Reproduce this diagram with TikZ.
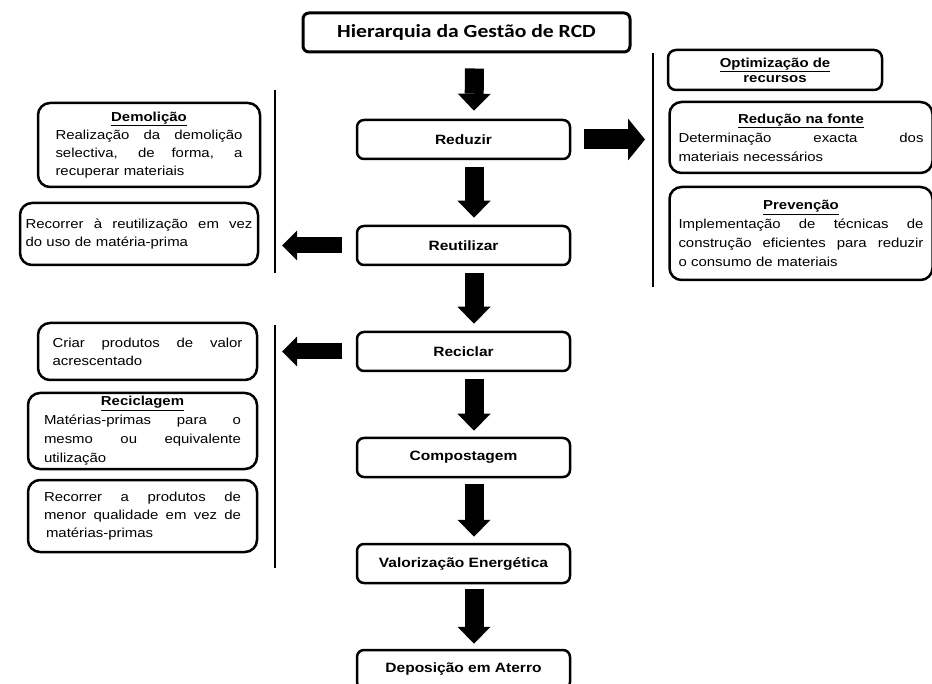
\documentclass[tikz,border=0pt]{standalone}
\usepackage{fontspec}
\setmainfont{Liberation Sans}[FakeStretch=1.15]
\newfontfamily\titlefont{Carlito}[FakeStretch=1.17]
\usetikzlibrary{arrows.meta}
\setlength\parindent{0pt}
% a justified (spread) line of given width, and a centred underlined heading line
\newcommand\jl[2]{\leavevmode\hbox to #1pt{\spaceskip=0.3em plus 10em\relax #2}}
\newcommand\hl[2]{\leavevmode\hbox to #1pt{\hfil\bfseries\underline{#2}\hfil}}
\begin{document}
\begin{tikzpicture}[x=1pt,y=-1pt,
  mainbox/.style={draw, line width=2.5pt, rounded corners=7pt, inner sep=0pt,
    minimum height=39pt, minimum width=213pt,
    font=\fontsize{13.5}{16}\selectfont\bfseries},
  titlebox/.style={draw, line width=3pt, rounded corners=6pt, inner sep=0pt,
    minimum height=39pt, minimum width=327pt,
    font=\titlefont\fontsize{18.5}{20}\selectfont\bfseries},
  sidebox/.style={draw, line width=2.5pt, rounded corners=12pt, inner sep=0pt,
    align=left, font=\fontsize{13}{18}\selectfont},
  rightbox/.style={draw, line width=2.5pt, rounded corners=12pt, inner sep=0pt,
    align=left, font=\fontsize{13}{19}\selectfont},
  downarrow/.style={line width=19pt, -{Triangle[length=17pt,width=33pt,line width=0pt]}},
  rightarrow/.style={line width=20pt, -{Triangle[length=17pt,width=42pt,line width=0pt]}},
  leftarrow/.style={line width=16pt, -{Triangle[length=15pt,width=30pt,line width=0pt]}},
  sepline/.style={line width=1.1pt}
]
\useasboundingbox (0,0) rectangle (932,684);

% central column
\node[titlebox] (title) at (466.5,32.5) {Hierarquia da Gestão de RCD};
\node[mainbox] (reduzir) at (463.5,139.5) {Reduzir};
\node[mainbox] (reut) at (463.5,245.5) {Reutilizar};
\node[mainbox] (recic) at (463.5,351.5) {Reciclar};
\node[mainbox] (compost) at (463.5,457.5) {Compostagem};
\node[mainbox] (valor) at (463.5,563.5) {Valorização Energética};
\node[mainbox] (depos) at (463.5,669.5) {Deposição em Aterro};

% down arrows
\draw[downarrow] ([xshift=8pt,yshift=-15pt]title.south) -- ([xshift=10.5pt,yshift=8pt]reduzir.north);
\draw[downarrow] ([xshift=10.5pt,yshift=-7pt]reduzir.south) -- ([xshift=10.5pt,yshift=7pt]reut.north);
\draw[downarrow] ([xshift=10.5pt,yshift=-7pt]reut.south) -- ([xshift=10.5pt,yshift=7pt]recic.north);
\draw[downarrow] ([xshift=10.5pt,yshift=-7pt]recic.south) -- ([xshift=10.5pt,yshift=6pt]compost.north);
\draw[downarrow] ([xshift=10.5pt,yshift=-6pt]compost.south) -- ([xshift=10.5pt,yshift=6pt]valor.north);
\draw[downarrow] ([xshift=10.5pt,yshift=-5pt]valor.south) -- ([xshift=10.5pt,yshift=5pt]depos.north);

% right side
\coordinate (rtop) at (653,53);
\coordinate (rbot) at (653,287);
\draw[sepline] (rtop) -- (rbot);
\coordinate (rtip) at (645,139.5);
\draw[rightarrow] ([xshift=13pt]reduzir.east) -- (rtip);

\node[draw, line width=2.5pt, rounded corners=8pt, inner sep=0pt, align=center,
  minimum width=214pt, minimum height=40pt,
  font=\fontsize{13}{15}\selectfont\bfseries] (optim) at (775,70)
  {\underline{Optimização de}\\recursos};
\node[rightbox, minimum width=263pt, minimum height=71pt, text width=245pt] (reducao) at (801,137.5)
  {\hl{245}{Redução na fonte}\\ \jl{245}{Determinação exacta dos}\\ materiais necessários};
\node[rightbox, minimum width=263pt, minimum height=93pt, text width=245pt] (prev) at (801,233.5)
  {\hl{245}{Prevenção}\\ \jl{245}{Implementação de técnicas de}\\ \jl{245}{construção eficientes para reduzir}\\ o consumo de materiais};

% left side, upper
\coordinate (l1top) at (275,90);
\coordinate (l1bot) at (275,273);
\draw[sepline] (l1top) -- (l1bot);
\coordinate (ltip1) at (282,245.5);
\draw[leftarrow] ([xshift=-14pt]reut.west) -- (ltip1);

\node[sidebox, minimum width=222pt, minimum height=84pt, text width=187pt] (demol) at (149,145)
  {\hl{187}{Demolição}\\ \jl{187}{Realização da demolição}\\ \jl{187}{selectiva, de forma, a}\\ recuperar materiais};
\node[sidebox, minimum width=238pt, minimum height=62pt, text width=227pt] (rec1) at (139,234)
  {\jl{227}{Recorrer à reutilização em vez}\\ do uso de matéria-prima};

% left side, lower
\coordinate (l2top) at (275,325);
\coordinate (l2bot) at (275,568);
\draw[sepline] (l2top) -- (l2bot);
\coordinate (ltip2) at (282,351.5);
\draw[leftarrow] ([xshift=-14pt]recic.west) -- (ltip2);

\node[sidebox, minimum width=219pt, minimum height=57pt, text width=190pt] (criar) at (147.5,351.5)
  {\jl{190}{Criar produtos de valor}\\ acrescentado};
\node[sidebox, minimum width=229pt, minimum height=76pt, text width=197pt,
  font=\fontsize{13}{19}\selectfont] (recicl) at (142.5,431)
  {\hl{197}{Reciclagem}\\ \jl{197}{Matérias-primas para o}\\ \jl{197}{mesmo ou equivalente}\\ utilização};
\node[sidebox, minimum width=229pt, minimum height=72pt, text width=197pt] (rec2) at (142.5,516)
  {\jl{197}{Recorrer a produtos de}\\ \leavevmode\hbox to 197pt{\spaceskip=0.12em plus 10em\relax menor qualidade em vez de}\\ \hspace*{2pt}matérias-primas};
\end{tikzpicture}
\end{document}
